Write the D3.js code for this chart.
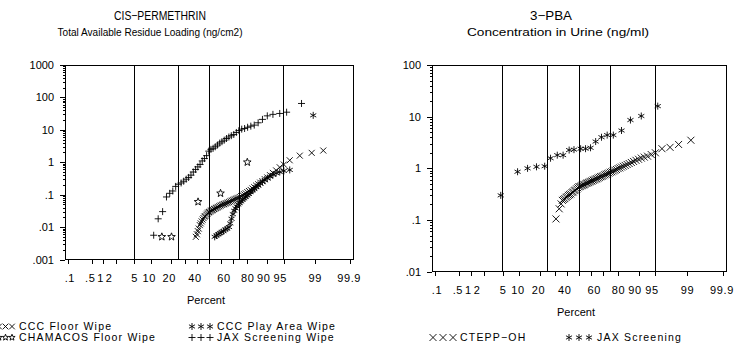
<!DOCTYPE html>
<html><head><meta charset="utf-8">
<script src="https://cdn.jsdelivr.net/npm/d3@7"></script>
<style>
body{margin:0;background:#fff;}
svg{display:block;font-family:"Liberation Sans",Arial,sans-serif;}
</style></head>
<body><svg id="c" width="744" height="347"></svg>
<script>
// ---------------- DATA ----------------
const xTickPercents = [0.1,0.5,1,2,5,10,20,30,40,50,60,70,80,90,95,99,99.9];
const xTickLabels   = [".1",".5","1","2","5","10","20","","40","","60","","80","90","95","99","99.9"];
const refLinePercents = [5,25,50,75,95];

// Left panel: CIS-PERMETHRIN
const leftYTicks = [0.001,0.01,0.1,1,10,100,1000];
const leftYLabels = [".001",".01",".1","1","10","100","1000"];

const cccFloorPct = [38.6,39.5,40.3,41.1,42,42.8,43.6,44.4,45.2,46,46.8,47.7,48.5,49.3,50.1,51,51.8,52.6,53.5,54.4,55.3,56.2,57.1,58,59,60,61,62,63,64,65,66,67,68,69,70,71,72,73,74,75,76,77,78,79,80,81,82,83,84,85,86,87,88,89,90,91,92,93,94,95,96.2,97.7,98.8,99.4];
const cccFloorVal = [.005,.006,.0075,.009,.0115,.013,.015,.017,.019,.021,.022,.024,.026,.028,.029,.03,.032,.033,.034,.036,.037,.039,.04,.042,.044,.046,.048,.05,.051,.053,.055,.057,.059,.062,.065,.068,.071,.074,.077,.08,.085,.09,.096,.103,.11,.12,.13,.14,.155,.17,.19,.21,.235,.26,.3,.34,.4,.47,.56,.7,.85,1.15,1.6,1.95,2.3];

const cccPlayPct = [55,56.5,58,59.5,61,62.5,64,65.5,67,68,69,70,71,72,73,74,75,76,77,78,79,80,81,82,83,84,85,86,87,88,89,90,91,92,93,94,95,96.2,98.9];
const cccPlayVal = [.005,.0055,.006,.0065,.007,.0075,.0085,.009,.01,.013,.018,.025,.032,.038,.043,.05,.055,.062,.07,.077,.085,.095,.105,.12,.135,.15,.17,.19,.22,.25,.28,.32,.36,.41,.46,.5,.54,.58,28];

const chamacosPct = [15,20.5,40.5,60,80];
const chamacosVal = [.005,.005,.06,.11,1.0];

const jaxWipePct = [11.2,13.2,15.4,17.5,19.4,21.3,23.2,25.1,27,28.9,30.8,32.7,34.6,36.5,38.4,40.3,42.2,44.1,46,47.9,49.8,51.7,53.6,55.5,57.4,59.3,61.2,63.1,65,66.9,68.8,70.7,72.6,74.5,76.4,78.3,80.2,82.1,84,86,88,90,92,94,95.6,97.9];
const jaxWipeVal = [.0056,.018,.03,.085,.11,.13,.18,.21,.23,.26,.3,.34,.4,.5,.6,.72,.85,1.1,1.3,1.6,2.2,2.5,2.7,3.0,3.4,3.9,4.3,4.8,5.4,6.0,6.6,7.2,8.3,9.5,10.5,11,12,13,14,16.5,21,27,30,32,35,65];

// Right panel: 3-PBA
const rightYTicks = [0.01,0.1,1,10,100];
const rightYLabels = [".01",".1","1","10","100"];

const cteppPct = [31,33.5,35,36,37,38,39,40,41,42,43,44,45,46,47,48,49,50,51,52,53,54,55,56,57,58,59,60,61,62,63,64,65,66,67,68,69,70,71,72,73,74,75,76,77,78,79,80,81,82,83,84,85,86,87,88,89,90,91,92,93,94,95,96.3,97.5,98.4,99.2];
const cteppVal = [.105,.165,.205,.24,.25,.26,.275,.285,.30,.31,.32,.34,.35,.37,.38,.40,.42,.44,.445,.46,.47,.48,.49,.51,.52,.53,.545,.56,.57,.59,.60,.62,.63,.65,.67,.69,.70,.72,.75,.77,.79,.81,.84,.86,.89,.92,.95,.99,1.02,1.06,1.10,1.14,1.19,1.24,1.30,1.36,1.43,1.50,1.58,1.65,1.72,1.85,2.0,2.4,2.55,2.9,3.5];

const jaxUrinePct = [4.6,9.3,13.4,18,23,27,32,36.6,41.6,45.7,51.4,55.6,59.8,64,68.6,72.8,77,82,86.6,91,95.5];
const jaxUrineVal = [.30,.86,1.0,1.07,1.1,1.57,1.8,1.8,2.26,2.3,2.4,2.4,2.5,3.3,4.0,4.4,4.4,5.4,8.6,10.3,16];

// ---------------- HELPERS ----------------
function probit(p){ // inverse standard normal CDF (Acklam)
  const a=[-39.69683028665376,220.9460984245205,-275.9285104469687,138.3577518672690,-30.66479806614716,2.506628277459239];
  const b=[-54.47609879822406,161.5858368580409,-155.6989798598866,66.80131188771972,-13.28068155288572];
  const c=[-0.007784894002430293,-0.3223964580411365,-2.400758277161838,-2.549732539343734,4.374664141464968,2.938163982698783];
  const d=[0.007784695709041462,0.3224671290700398,2.445134137142996,3.754408661907416];
  const pl=0.02425, ph=1-pl; let q,r;
  if(p<pl){q=Math.sqrt(-2*Math.log(p));return (((((c[0]*q+c[1])*q+c[2])*q+c[3])*q+c[4])*q+c[5])/((((d[0]*q+d[1])*q+d[2])*q+d[3])*q+1);}
  if(p<=ph){q=p-0.5;r=q*q;return (((((a[0]*r+a[1])*r+a[2])*r+a[3])*r+a[4])*r+a[5])*q/(((((b[0]*r+b[1])*r+b[2])*r+b[3])*r+b[4])*r+1);}
  q=Math.sqrt(-2*Math.log(1-p));return -(((((c[0]*q+c[1])*q+c[2])*q+c[3])*q+c[4])*q+c[5])/((((d[0]*q+d[1])*q+d[2])*q+d[3])*q+1);
}
const sym = {
  x:(s)=>`M${-s},${-s}L${s},${s}M${-s},${s}L${s},${-s}`,
  plus:(s)=>`M${-s},0L${s},0M0,${-s}L0,${s}`,
  star:(s)=>{const k=s*0.87, h=s*0.5;return `M0,${-s}L0,${s}M${-k},${-h}L${k},${h}M${-k},${h}L${k},${-h}`;},
  pent:(s)=>{let pts=[];for(let i=0;i<10;i++){const r=i%2?s*0.42:s;const a=-Math.PI/2+i*Math.PI/5;pts.push([r*Math.cos(a),r*Math.sin(a)]);}return "M"+pts.map(p=>p[0].toFixed(2)+","+p[1].toFixed(2)).join("L")+"Z";}
};
// label nudges (the source plot spreads crowded percent labels apart)
const labelNudge = {".1":1,".5":-2,"1":-3,"2":-7,"10":-2,"20":-2,"40":-3,"60":3,"90":-4,"95":-4,"99.9":-1};

const svg = d3.select("#c");

function panel(cfg){
  const g = svg.append("g");
  const x = d3.scaleLinear().domain([-3.165,3.165]).range([cfg.x0,cfg.x1]);
  const y = d3.scaleLog().domain(cfg.yDomain).range([cfg.y1,cfg.y0]);
  const px = p=>x(probit(p/100));

  // titles
  g.append("text").attr("x",cfg.tx1).attr("y",19.5).attr("text-anchor","middle").attr("font-size",12.5)
    .attr("textLength",cfg.t1len).attr("lengthAdjust","spacingAndGlyphs").text(cfg.title1);
  g.append("text").attr("x",cfg.tx2).attr("y",35.5).attr("text-anchor","middle").attr("font-size",10.5)
    .attr("textLength",cfg.t2len).attr("lengthAdjust","spacingAndGlyphs").text(cfg.title2);

  // reference lines
  g.selectAll(".ref").data(refLinePercents).join("line")
    .attr("x1",d=>px(d)).attr("x2",d=>px(d)).attr("y1",cfg.y0).attr("y2",cfg.y1)
    .attr("stroke","#000").attr("stroke-width",1).attr("shape-rendering","crispEdges");

  // frame
  g.append("rect").attr("x",cfg.x0).attr("y",cfg.y0).attr("width",cfg.x1-cfg.x0).attr("height",cfg.y1-cfg.y0)
    .attr("fill","none").attr("stroke","#000").attr("stroke-width",1).attr("shape-rendering","crispEdges");

  // y axis
  const minors=[];
  const [lo,hi]=cfg.yDomain;
  for(let e=Math.log10(lo);e<Math.log10(hi);e++){for(let m=2;m<=9;m++)minors.push(m*Math.pow(10,e));}
  const yMinor = d3.axisLeft(y).tickValues(minors).tickSize(2).tickFormat("");
  g.append("g").attr("transform",`translate(${cfg.x0},0)`).call(yMinor).call(s=>s.select(".domain").remove());
  const yMajor = d3.axisLeft(y).tickValues(cfg.yTicks).tickSize(5).tickPadding(6)
    .tickFormat((d,i)=>cfg.yLabels[i]);
  const ya = g.append("g").attr("transform",`translate(${cfg.x0},0)`).call(yMajor);
  ya.select(".domain").remove();
  ya.selectAll("text").attr("font-size",11).attr("font-family","Liberation Sans, Arial, sans-serif");
  g.selectAll(".tick line").attr("shape-rendering","crispEdges");

  // x axis
  const xa = d3.axisBottom(x).tickValues(xTickPercents.map(p=>probit(p/100))).tickSize(4).tickPadding(11)
    .tickFormat((d,i)=>xTickLabels[i]);
  const xg = g.append("g").attr("transform",`translate(0,${cfg.y1})`).call(xa);
  xg.select(".domain").remove();
  xg.selectAll("text").attr("font-size",11).attr("letter-spacing",0.6)
    .attr("font-family","Liberation Sans, Arial, sans-serif")
    .attr("dx",function(){return (labelNudge[this.textContent]||0);});
  xg.selectAll("line").attr("shape-rendering","crispEdges");
  g.append("text").attr("x",(cfg.x0+cfg.x1)/2-3).attr("y",cfg.y1+44).attr("text-anchor","middle").attr("font-size",11).text("Percent");

  // series
  cfg.series.forEach(s=>{
    const pts = s.pct.map((p,i)=>({p,v:s.val[i]}));
    g.append("g").selectAll("path").data(pts).join("path")
      .attr("transform",d=>`translate(${px(d.p)},${y(d.v)})`)
      .attr("d",sym[s.sym](s.size)).attr("fill","none").attr("stroke","#000").attr("stroke-width",0.9);
  });

  // legend
  cfg.legend.forEach(l=>{
    const lg = g.append("g");
    [0,1,2].forEach(k=>{
      lg.append("path").attr("transform",`translate(${l.sx+k*l.step},${l.y-3.5})`)
        .attr("d",sym[l.sym](l.size)).attr("fill","none").attr("stroke","#000").attr("stroke-width",0.9);
    });
    lg.append("text").attr("x",l.tx).attr("y",l.y).attr("font-size",10.5).attr("letter-spacing",1.2).text(l.label);
  });
}

panel({
  x0:65,x1:353,y0:65,y1:259.5,yDomain:[0.001,1000],yTicks:leftYTicks,yLabels:leftYLabels,
  tx1:160,tx2:150,t1len:92,t2len:185,title1:"CIS\u2212PERMETHRIN",title2:"Total Available Residue Loading (ng/cm2)",
  series:[
    {pct:cccFloorPct,val:cccFloorVal,sym:"x",size:3},
    {pct:cccPlayPct,val:cccPlayVal,sym:"star",size:3.5},
    {pct:chamacosPct,val:chamacosVal,sym:"pent",size:4},
    {pct:jaxWipePct,val:jaxWipeVal,sym:"plus",size:3.5}
  ],
  legend:[
    {sym:"x",size:2.8,sx:-1,step:6.5,tx:19,y:330,label:"CCC Floor Wipe"},
    {sym:"pent",size:3.3,sx:-1,step:6.5,tx:19,y:341,label:"CHAMACOS Floor Wipe"},
    {sym:"star",size:3.5,sx:192,step:9,tx:217,y:330,label:"CCC Play Area Wipe"},
    {sym:"plus",size:3.5,sx:192,step:9,tx:217,y:341,label:"JAX Screening Wipe"}
  ]
});
panel({
  x0:432,x1:726,y0:65,y1:271.7,yDomain:[0.01,100],yTicks:rightYTicks,yLabels:rightYLabels,
  tx1:551,tx2:558,t1len:42,t2len:182,title1:"3\u2212PBA",title2:"Concentration in Urine (ng/ml)",
  series:[
    {pct:cteppPct,val:cteppVal,sym:"x",size:3.5},
    {pct:jaxUrinePct,val:jaxUrineVal,sym:"star",size:3.5}
  ],
  legend:[
    {sym:"x",size:3.5,sx:433,step:10,tx:460,y:341,label:"CTEPP\u2212OH"},
    {sym:"star",size:3.5,sx:569,step:10,tx:597,y:341,label:"JAX Screening"}
  ]
});
</script></body></html>
